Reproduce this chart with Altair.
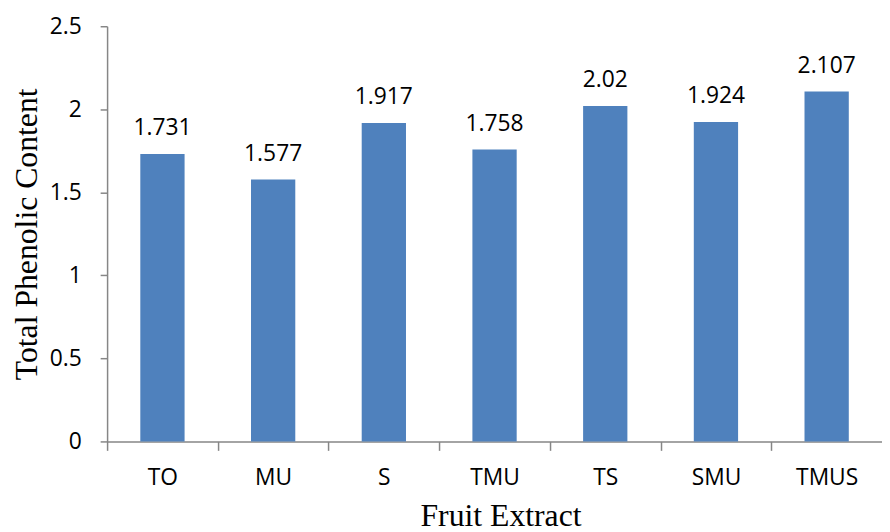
import altair as alt
import pandas as pd

categories = ["TO", "MU", "S", "TMU", "TS", "SMU", "TMUS"]
values = [1.731, 1.577, 1.917, 1.758, 2.02, 1.924, 2.107]

df = pd.DataFrame({"cat": categories, "val": values})

W, H = 782, 419
half_step = W / len(categories) / 2

x_enc = alt.X(
    "cat:N",
    sort=categories,
    scale=alt.Scale(paddingInner=0, paddingOuter=0),
    axis=alt.Axis(
        title="Fruit Extract",
        titleFont="Liberation Serif",
        titleFontSize=32,
        titleFontWeight="normal",
        titleColor="#000000",
        titleX=397,
        titleY=85,
        titleBaseline="alphabetic",
        titleAlign="center",
        labelFont="Open Sans",
        labelFontSize=23,
        labelColor="#000000",
        labelAngle=0,
        labelBaseline="alphabetic",
        labelPadding=34,
        tickOffset=-half_step,
        labelOffset=half_step,
        tickSize=9,
        tickColor="#868686",
        tickWidth=1.5,
        domainColor="#868686",
        domainWidth=1.5,
        grid=False,
    ),
)

y_enc = alt.Y(
    "val:Q",
    scale=alt.Scale(domain=[0, 2.5], nice=False),
    axis=alt.Axis(
        title="Total Phenolic Content",
        titleFont="Liberation Serif",
        titleFontSize=32,
        titleFontWeight="normal",
        titleColor="#000000",
        titleAngle=-90,
        titleX=-71,
        titleY=H / 2,
        titleAlign="center",
        titleBaseline="alphabetic",
        values=[0, 0.5, 1, 1.5, 2, 2.5],
        format="~g",
        labelFont="Open Sans",
        labelFontSize=23,
        labelColor="#000000",
        labelPadding=19,
        tickSize=7,
        tickColor="#868686",
        tickWidth=1.5,
        domainColor="#868686",
        domainWidth=1.5,
        grid=False,
    ),
)

base = alt.Chart(df)

bars = base.mark_bar(color="#4F81BD", width=alt.RelativeBandSize(0.4)).encode(
    x=x_enc, y=y_enc
)

labels = base.mark_text(
    font="Open Sans", fontSize=23, color="#000000", baseline="alphabetic", dy=-19
).encode(
    x=alt.X("cat:N", sort=categories),
    y="val:Q",
    text=alt.Text("val:Q", format=".4~g"),
)

chart = (
    alt.layer(bars, labels)
    .properties(
        width=W,
        height=H,
        autosize=alt.AutoSizeParams(type="none"),
        padding={"left": 100, "top": 16, "right": 0, "bottom": 89},
        background="white",
    )
    .configure_view(stroke=None)
)

chart.save("out.html", embed_options={"renderer": "svg", "actions": False})
